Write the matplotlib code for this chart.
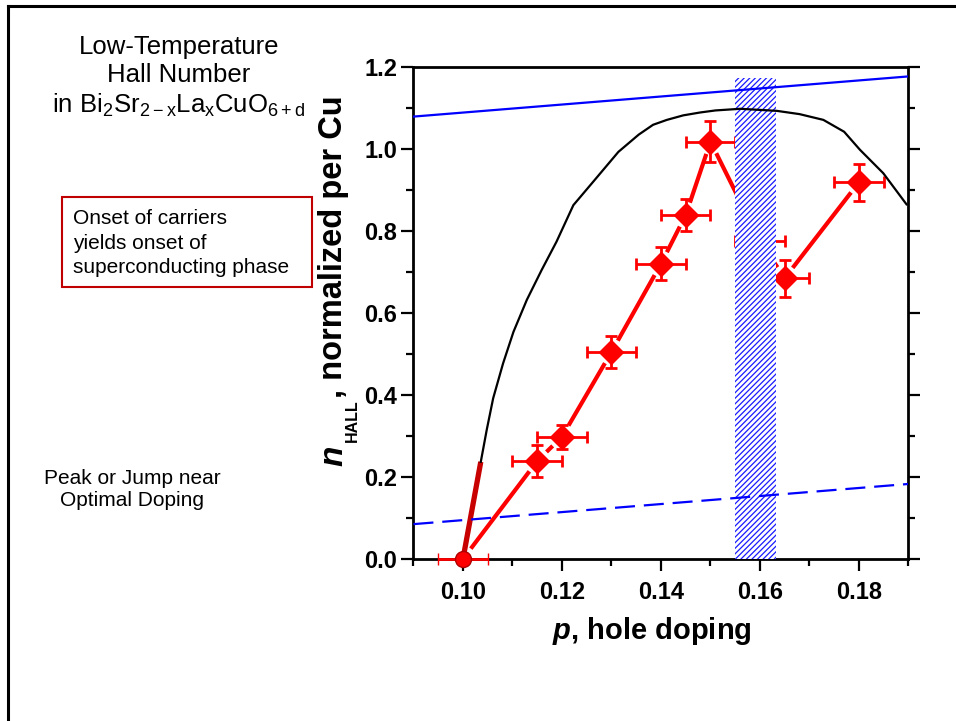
import numpy as np
import matplotlib
matplotlib.use('Agg')
import matplotlib.pyplot as plt
from matplotlib.lines import Line2D
from matplotlib.patches import Rectangle

'''
Fonts
'''
plt.rcParams['font.family'] = ['Liberation Sans', 'DejaVu Sans']
plt.rcParams['mathtext.fontset'] = 'custom'
plt.rcParams['mathtext.rm'] = 'Liberation Sans'
plt.rcParams['mathtext.it'] = 'Liberation Sans:italic:bold'
plt.rcParams['mathtext.bf'] = 'Liberation Sans:bold'
plt.rcParams['hatch.linewidth'] = 0.9

'''
Data read off the slide
'''
# Hall number points (p, n) with error bars
p_data = [0.115, 0.12, 0.13, 0.14, 0.145, 0.15, 0.16, 0.165, 0.18]
n_data = [0.239, 0.298, 0.505, 0.72, 0.839, 1.018, 0.775, 0.685, 0.919]
n_err = [0.04, 0.03, 0.04, 0.04, 0.04, 0.05, 0.04, 0.045, 0.045]
p_err = 0.005
# onset point
p_onset, n_onset = 0.10, 0.0
# steep onset line (dark red)
p_steep = [0.10, 0.1036]
n_steep = [0.0, 0.237]
# superconducting dome (black)
p_dome = [0.1036, 0.1048, 0.1061, 0.1081, 0.1102, 0.1129, 0.1159, 0.1189, 0.1223,
          0.1263, 0.1314, 0.1355, 0.1384, 0.1412, 0.1445, 0.1479, 0.1510, 0.1560,
          0.1634, 0.1680, 0.1728, 0.1770, 0.1802, 0.1849, 0.1896]
n_dome = [0.237, 0.315, 0.392, 0.477, 0.554, 0.632, 0.705, 0.774, 0.863,
          0.920, 0.993, 1.035, 1.059, 1.071, 1.082, 1.089, 1.094, 1.098,
          1.093, 1.085, 1.071, 1.042, 0.998, 0.941, 0.865]
# blue reference lines
p_line = [0.09, 0.19]
n_solid = [1.079, 1.177]
n_dash = [0.085, 0.183]
# optimal doping band
band_lo, band_hi, band_top = 0.155, 0.1632, 1.173

'''
Figure and axes
'''
W, H = 956, 721
fig = plt.figure(figsize=(W/100, H/100), dpi=100)
ax = fig.add_axes([0.4325, 0.2247, 0.5178, 0.6824])
ax.set_xlim(0.09, 0.19)
ax.set_ylim(0.0, 1.2)

# slide frame (top and left edges only)
fig.add_artist(Line2D([8/W, 1], [1-6/H, 1-6/H], color='black', lw=2.2, transform=fig.transFigure))
fig.add_artist(Line2D([8/W, 8/W], [0, 1-6/H], color='black', lw=2.2, transform=fig.transFigure))

'''
Red data: line with gaps around symbols (Origin style)
'''
def gapped(ax, xs, ys, gap, **kw):
	pts = ax.transData.transform(np.column_stack([xs, ys]))
	inv = ax.transData.inverted()
	for a, b in zip(pts[:-1], pts[1:]):
		d = b - a
		L = np.hypot(*d)
		if L <= 2*gap:
			continue
		u = d/L
		seg = inv.transform(np.array([a + u*gap, b - u*gap]))
		ax.plot(seg[:, 0], seg[:, 1], **kw)

gapped(ax, [p_onset] + p_data, [n_onset] + n_data, 13, color='red', lw=3.0,
       solid_capstyle='butt', zorder=3)

ax.plot(p_steep, n_steep, color='#c80000', lw=3.8, solid_capstyle='butt', zorder=3)

ax.errorbar(p_data, n_data, xerr=p_err, yerr=n_err, fmt='D', color='red', ms=12,
            capsize=4.5, elinewidth=2, capthick=2, zorder=4)
ax.errorbar([p_onset], [n_onset], xerr=p_err, fmt='o', color='red', mec='#b00000',
            mew=1, ms=11.5, capsize=4.5, elinewidth=2, capthick=2, zorder=5, clip_on=False)

# hatched optimal-doping band (covers the data)
ax.add_patch(Rectangle((band_lo, 0), band_hi - band_lo, band_top, facecolor='white',
                       edgecolor='#1a1aff', hatch='//////', lw=0, zorder=6))

ax.plot(p_dome, n_dome, color='black', lw=1.6, zorder=7)
ax.plot(p_line, n_solid, color='#0000ff', lw=1.6, zorder=7)
ax.plot(p_line, n_dash, color='#0000ff', lw=1.6, ls=(0, (9, 4)), zorder=7)

'''
Axes styling
'''
for s in ['left', 'right', 'bottom', 'top']:
	ax.spines[s].set_linewidth(2)
ax.set_xticks([0.10, 0.12, 0.14, 0.16, 0.18])
ax.set_xticks(np.arange(0.09, 0.191, 0.01), minor=True)
ax.set_yticks(np.arange(0, 1.21, 0.2))
ax.set_yticks(np.arange(0.1, 1.2, 0.2), minor=True)
ax.xaxis.set_major_formatter(plt.FormatStrFormatter('%.2f'))
ax.yaxis.set_major_formatter(plt.FormatStrFormatter('%.1f'))
ax.tick_params(which='both', direction='out', width=1.6, right=True, top=False)
ax.tick_params(which='major', length=8.5, labelsize=17, pad=3)
ax.tick_params(which='minor', length=5)
ax.tick_params(axis='x', which='major', pad=7)
for lab in ax.get_xticklabels() + ax.get_yticklabels():
	lab.set_fontweight('bold')

ax.set_xlabel(r'$p$, hole doping', fontsize=21, fontweight='bold')
ax.xaxis.set_label_coords(0.482, -0.114)

# y label built from pieces: n, small HALL subscript, rest of text
def px(x, y):
	return x/W, 1 - y/H
ylab = dict(rotation=90, rotation_mode='anchor', ha='left', va='baseline', fontweight='bold')
fig.text(*px(342, 466), 'n', fontsize=24, style='italic', **ylab)
fig.text(*px(357, 442), 'HALL', fontsize=11.5, **ylab)
fig.text(*px(342, 398), ', normalized per Cu', fontsize=23.5, **ylab)

'''
Slide text
'''
fig.text(179/W, 1-77/H, 'Low-Temperature\nHall Number\nin Bi$_2$Sr$_{\\mathrm{2-x}}$La$_{\\mathrm{x}}$CuO$_{\\mathrm{6+d}}$',
         ha='center', va='center', fontsize=18.5, linespacing=1.2)
fig.text(132/W, 1-489/H, 'Peak or Jump near\nOptimal Doping', ha='center', va='center',
         fontsize=15, linespacing=1.2)
fig.add_artist(Rectangle((62/W, 1-287/H), 250/W, 90/H, transform=fig.transFigure,
                         facecolor='none', edgecolor='#c00000', lw=1.5))
fig.text(73/W, 1-243/H, 'Onset of carriers\nyields onset of\nsuperconducting phase',
         ha='left', va='center', fontsize=15, linespacing=1.35)

plt.savefig('out.png', dpi=100)
